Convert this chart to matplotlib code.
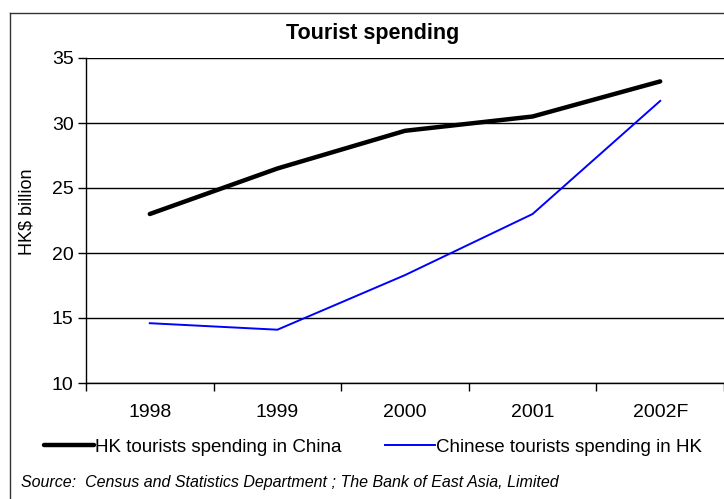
import matplotlib
matplotlib.use("Agg")
import matplotlib.pyplot as plt
from matplotlib.lines import Line2D

categories = ["1998", "1999", "2000", "2001", "2002F"]
hk_in_china = [23.0, 26.5, 29.4, 30.5, 33.2]
chinese_in_hk = [14.6, 14.1, 18.3, 23.0, 31.7]
y_ticks = [10, 15, 20, 25, 30, 35]

plt.rcParams['font.family'] = ['Liberation Sans', 'DejaVu Sans']

W, H = 724, 499
fig = plt.figure(figsize=(W / 100, H / 100), dpi=100)
ax = fig.add_axes([86 / W, 1 - 383 / H, (W - 86) / W, (383 - 58) / H])

x = list(range(len(categories)))
ax.plot(x, hk_in_china, color='black', lw=3.2, solid_capstyle='round',
        label='HK tourists spending in China')
ax.plot(x, chinese_in_hk, color='#0000FF', lw=1.4,
        label='Chinese tourists spending in HK')

ax.set_xlim(-0.5, len(categories) - 0.5)
ax.set_ylim(10, 35)
ax.set_yticks(y_ticks)
ax.set_yticklabels([str(v) for v in y_ticks], fontsize=14)
ax.set_xticks(x)
ax.set_xticklabels(categories, fontsize=14)
ax.set_xticks([i - 0.5 for i in range(len(categories) + 1)], minor=True)
ax.tick_params(axis='x', which='major', length=0, pad=15)
ax.tick_params(axis='x', which='minor', length=6, width=1, direction='out')
ax.tick_params(axis='y', length=6, width=1, direction='out', pad=3)
ax.yaxis.grid(True, color='black', lw=1)
ax.set_axisbelow(True)
for s in ['right', 'top']:
    ax.spines[s].set_visible(False)
for s in ['left', 'bottom']:
    ax.spines[s].set_linewidth(1)
ax.set_ylabel('HK$ billion', fontsize=13)
ax.yaxis.set_label_coords(-(86 - 36) / (W - 86), (383 - 212) / (383 - 58))

fig.text(373 / W, 1 - 33 / H, 'Tourist spending', ha='center', va='center',
         fontsize=15.5, fontweight='bold')

fig.legend(loc='center', bbox_to_anchor=(373 / W, 1 - 447 / H), ncol=2,
           frameon=False, fontsize=13.5, handlelength=2.7, handletextpad=0.05,
           columnspacing=2.3)

fig.text(21 / W, 1 - 483 / H,
         'Source:  Census and Statistics Department ; The Bank of East Asia, Limited',
         ha='left', va='center', fontsize=11.5, fontstyle='italic')

# outer frame (left and top edges)
fig.add_artist(Line2D([9.5 / W, 9.5 / W], [0, 1 - 12.5 / H], transform=fig.transFigure,
                      color='#333333', lw=1))
fig.add_artist(Line2D([9.5 / W, 1], [1 - 12.5 / H, 1 - 12.5 / H], transform=fig.transFigure,
                      color='#333333', lw=1))

fig.savefig('out.png', dpi=100)
